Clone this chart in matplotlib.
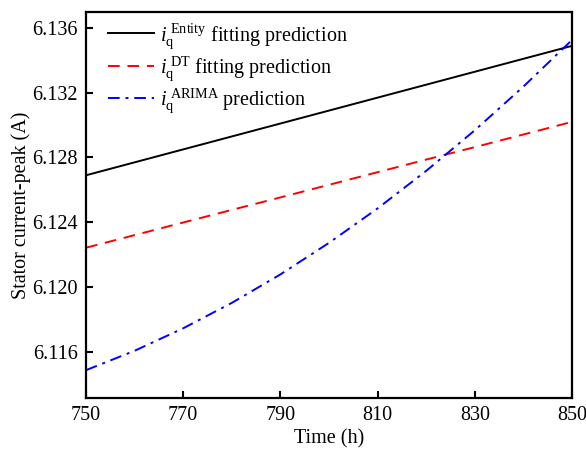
import matplotlib
matplotlib.use("Agg")
import matplotlib.pyplot as plt

time_h = [750, 760, 770, 780, 790, 800, 810, 820, 830, 840, 850]
entity_fit = [6.12690, 6.12770, 6.12850, 6.12930, 6.13010, 6.13090, 6.13170, 6.13250, 6.13330, 6.13410, 6.13490]
dt_fit = [6.12242, 6.12320, 6.12398, 6.12476, 6.12553, 6.12631, 6.12709, 6.12787, 6.12864, 6.12942, 6.13020]
arima_pred = [6.11485, 6.11605, 6.11744, 6.11901, 6.12077, 6.12272, 6.12485, 6.12717, 6.12968, 6.13238, 6.13526]

x_ticks = [750, 770, 790, 810, 830, 850]
y_ticks = [6.116, 6.120, 6.124, 6.128, 6.132, 6.136]

plt.rcParams['font.family'] = ['Liberation Serif', 'DejaVu Serif']
plt.rcParams['mathtext.fontset'] = 'custom'
plt.rcParams['mathtext.rm'] = 'Liberation Serif'
plt.rcParams['mathtext.it'] = 'Liberation Serif:italic'

fig = plt.figure(figsize=(5.86, 4.58), dpi=100)
ax = fig.add_axes([0.1468, 0.131, 0.976 - 0.1468, 0.974 - 0.131])

ax.plot(time_h, entity_fit, color='black', lw=1.4, label=r'$i_{\mathrm{q}}^{\ \mathrm{Entity}}$ fitting prediction')
ax.plot(time_h, dt_fit, color='#ff0000', lw=1.4, linestyle=(0, (6, 4)), label=r'$i_{\mathrm{q}}^{\ \mathrm{DT}}$ fitting prediction')
ax.plot(time_h, arima_pred, color='#0000ff', lw=1.4, linestyle=(0, (6, 3, 1.5, 3)), label=r'$i_{\mathrm{q}}^{\ \mathrm{ARIMA}}$ prediction')

ax.set_xlim(750, 850)
ax.set_ylim(6.11313, 6.13700)
ax.set_xticks(x_ticks)
ax.set_xticklabels([str(v) for v in x_ticks])
ax.set_yticks(y_ticks)
ax.set_yticklabels([f"{v:.3f}" for v in y_ticks])

for s in ax.spines.values():
    s.set_linewidth(1.6)
ax.tick_params(direction='in', length=5, width=1.5, labelsize=14.5, top=False, right=False, pad=6)

ax.set_xlabel('Time (h)', fontsize=14.5, labelpad=3)
ax.set_ylabel('Stator current-peak (A)', fontsize=14.5, labelpad=1)

ax.legend(loc='upper left', frameon=False, fontsize=14.5, handlelength=2.3,
          borderaxespad=0.2, labelspacing=0.18, handletextpad=0.3,
          bbox_to_anchor=(0.02, 1.008))

fig.savefig('out.png', dpi=100)
